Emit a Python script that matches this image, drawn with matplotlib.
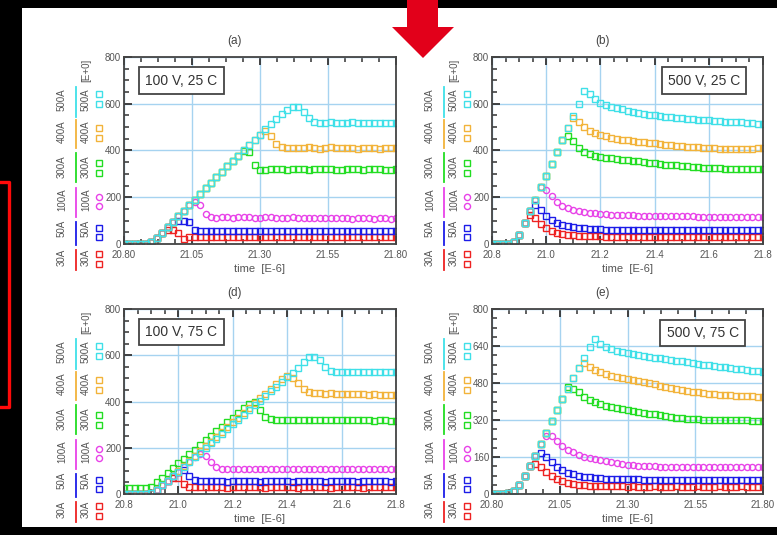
import matplotlib
matplotlib.use("Agg")
import matplotlib.pyplot as plt
from matplotlib.lines import Line2D
from matplotlib.patches import Rectangle, Polygon
from matplotlib.ticker import AutoMinorLocator

# sample times [E-6 s], shared by all four panels
T = [20.80, 20.82, 20.84, 20.86, 20.88, 20.90, 20.92, 20.94, 20.96, 20.98,
     21.00, 21.02, 21.04, 21.06, 21.08, 21.10, 21.12, 21.14, 21.16, 21.18,
     21.20, 21.22, 21.24, 21.26, 21.28, 21.30, 21.32, 21.34, 21.36, 21.38,
     21.40, 21.42, 21.44, 21.46, 21.48, 21.50, 21.52, 21.54, 21.56, 21.58,
     21.60, 21.62, 21.64, 21.66, 21.68, 21.70, 21.72, 21.74, 21.76, 21.78, 21.80]

NAMES = ['30A', '50A', '100A', '300A', '400A', '500A']
COLORS = ['#ee2222', '#1c1ce8', '#e842e8', '#22dd22', '#f2b33a', '#3fe0e8']
MARKERS = ['s', 's', 'o', 's', 's', 's']

# (a) 100 V, 25 C
a_30A = [0, 0, 0, 0, 2, 8, 25, 48, 62, 58, 45, 22, 28, 30, 31, 29, 30, 32, 30, 29,
         31, 30, 28, 30, 31, 29, 30, 31, 30, 28, 30, 31, 29, 30, 31, 30, 29, 30, 31, 29,
         30, 31, 30, 29, 30, 31, 30, 29, 30, 31, 30]
a_50A = [0, 0, 0, 0, 2, 8, 25, 48, 72, 96, 100, 98, 92, 62, 56, 55, 57, 56, 54, 55,
         57, 56, 55, 54, 56, 57, 55, 54, 56, 55, 54, 56, 57, 55, 54, 55, 56, 54, 55, 57,
         56, 54, 55, 56, 55, 54, 56, 55, 54, 55, 56]
a_100A = [0, 0, 0, 0, 2, 8, 25, 48, 72, 96, 120, 143, 165, 178, 168, 128, 114, 112, 115, 114,
          113, 115, 116, 114, 112, 113, 115, 114, 112, 111, 113, 114, 112, 110, 112, 113, 111, 110, 112, 113,
          111, 110, 109, 111, 112, 110, 109, 111, 110, 108, 110]
a_300A = [0, 0, 0, 0, 2, 8, 25, 48, 72, 96, 120, 143, 167, 190, 214, 238, 262, 285, 308, 332,
          355, 378, 398, 392, 338, 318, 316, 320, 322, 319, 318, 321, 322, 320, 318, 319, 321, 322, 320, 318,
          317, 320, 321, 319, 318, 320, 321, 319, 317, 318, 320]
a_400A = [0, 0, 0, 0, 2, 8, 25, 48, 72, 96, 120, 143, 167, 190, 214, 238, 262, 285, 308, 332,
          355, 378, 400, 422, 445, 467, 485, 462, 428, 414, 410, 412, 409, 411, 413, 410, 408, 411, 413, 410,
          409, 412, 410, 408, 411, 412, 409, 408, 410, 412, 409]
a_500A = [0, 0, 0, 0, 2, 8, 25, 48, 72, 96, 120, 143, 167, 190, 214, 238, 262, 285, 308, 332,
          355, 378, 400, 422, 445, 467, 490, 512, 535, 556, 575, 586, 584, 566, 540, 522, 516, 518, 520, 519,
          517, 518, 520, 518, 516, 517, 519, 518, 516, 517, 518]

# (b) 500 V, 25 C
b_30A = [0, 0, 0, 0, 8, 40, 90, 125, 110, 85, 68, 55, 48, 43, 40, 38, 36, 35, 34, 33,
         33, 32, 32, 32, 31, 31, 31, 31, 30, 31, 30, 30, 31, 30, 30, 30, 31, 30, 30, 30,
         31, 30, 30, 30, 31, 30, 30, 30, 31, 30, 30]
b_50A = [0, 0, 0, 0, 8, 40, 90, 140, 168, 145, 120, 102, 90, 82, 76, 72, 69, 67, 65, 64,
         63, 62, 62, 61, 61, 61, 60, 60, 60, 60, 60, 59, 60, 60, 59, 60, 60, 59, 60, 59,
         60, 60, 59, 60, 60, 59, 60, 60, 59, 60, 60]
b_100A = [0, 0, 0, 0, 8, 40, 90, 140, 190, 245, 232, 205, 180, 163, 152, 145, 140, 136, 133, 131,
          129, 127, 126, 125, 124, 123, 122, 121, 121, 120, 120, 119, 119, 119, 118, 118, 118, 118, 117, 117,
          117, 117, 117, 117, 116, 117, 117, 116, 117, 117, 117]
b_300A = [0, 0, 0, 0, 8, 40, 90, 140, 190, 242, 293, 344, 395, 446, 460, 440, 410, 395, 385, 378,
          373, 369, 366, 363, 360, 358, 356, 353, 350, 347, 345, 342, 340, 338, 336, 334, 332, 330, 328, 326,
          325, 324, 323, 322, 322, 321, 321, 320, 320, 320, 320]
b_400A = [0, 0, 0, 0, 8, 40, 90, 140, 190, 242, 293, 344, 395, 446, 497, 540, 522, 502, 485, 474,
          466, 460, 455, 451, 447, 444, 441, 438, 435, 432, 430, 428, 425, 423, 421, 419, 417, 416, 414, 412,
          410, 409, 408, 408, 407, 407, 406, 408, 407, 409, 410]
b_500A = [0, 0, 0, 0, 8, 40, 90, 140, 190, 242, 293, 344, 395, 446, 497, 548, 600, 655, 640, 622,
          605, 596, 588, 582, 576, 571, 566, 562, 558, 554, 551, 548, 545, 542, 540, 537, 535, 533, 532, 530,
          529, 527, 526, 524, 523, 521, 520, 518, 517, 515, 514]

# (d) 100 V, 75 C
d_30A = [0, 2, 0, 1, 2, 5, 18, 37, 56, 70, 68, 45, 32, 30, 29, 30, 31, 29, 30, 28,
         30, 29, 31, 30, 29, 30, 28, 29, 30, 31, 29, 30, 28, 29, 30, 31, 29, 30, 28, 29,
         30, 31, 29, 30, 28, 29, 30, 31, 29, 30, 29]
d_50A = [0, 2, 0, 1, 2, 5, 18, 37, 56, 77, 97, 104, 80, 60, 56, 55, 57, 56, 55, 54,
         56, 55, 57, 56, 55, 54, 56, 55, 57, 56, 55, 54, 56, 55, 57, 56, 55, 54, 56, 55,
         57, 56, 55, 54, 56, 55, 57, 56, 55, 54, 56]
d_100A = [0, 2, 0, 1, 2, 5, 18, 37, 56, 77, 97, 118, 138, 158, 172, 165, 140, 118, 110, 108,
          109, 110, 108, 109, 110, 109, 108, 110, 109, 108, 110, 109, 108, 109, 110, 108, 109, 110, 108, 109,
          110, 109, 108, 107, 109, 108, 109, 107, 108, 109, 108]
d_300A = [25, 26, 24, 25, 26, 30, 50, 70, 90, 112, 132, 152, 172, 192, 212, 232, 252, 271, 290, 310,
          330, 350, 370, 390, 398, 365, 335, 325, 322, 320, 321, 319, 320, 322, 320, 319, 320, 321, 319, 318,
          320, 319, 318, 320, 319, 318, 317, 319, 318, 317, 316]
d_400A = [0, 2, 0, 1, 2, 5, 18, 37, 58, 80, 101, 122, 143, 164, 185, 206, 227, 247, 268, 289,
          310, 330, 351, 372, 393, 413, 434, 455, 476, 497, 512, 500, 478, 455, 443, 438, 436, 434, 435, 433,
          432, 434, 433, 431, 432, 430, 431, 429, 430, 428, 429]
d_500A = [0, 2, 0, 1, 2, 5, 18, 37, 56, 77, 97, 118, 138, 158, 179, 199, 220, 240, 260, 281,
          301, 322, 342, 362, 383, 403, 424, 444, 464, 485, 505, 525, 546, 570, 592, 594, 578, 550, 532, 527,
          528, 526, 529, 527, 528, 526, 527, 529, 528, 526, 527]

# (e) 500 V, 75 C
e_30A = [0, 0, 2, 5, 15, 40, 80, 120, 130, 115, 95, 78, 65, 55, 48, 43, 40, 38, 36, 35,
         34, 34, 33, 33, 33, 32, 33, 32, 32, 32, 33, 32, 32, 32, 33, 32, 32, 32, 33, 32,
         32, 32, 33, 32, 32, 32, 33, 32, 32, 32, 33]
e_50A = [0, 0, 2, 5, 15, 40, 80, 120, 165, 176, 160, 138, 118, 102, 92, 85, 79, 75, 72, 70,
         68, 67, 66, 65, 64, 64, 63, 63, 62, 62, 62, 62, 61, 62, 61, 61, 62, 61, 61, 62,
         61, 61, 62, 61, 61, 62, 61, 61, 62, 61, 61]
e_100A = [0, 0, 2, 5, 15, 40, 80, 120, 165, 215, 252, 250, 230, 208, 192, 180, 170, 162, 155, 150,
          146, 141, 137, 133, 129, 126, 124, 122, 121, 120, 119, 118, 117, 117, 116, 116, 116, 115, 116, 115,
          115, 116, 115, 115, 116, 115, 115, 116, 115, 115, 116]
e_300A = [0, 0, 2, 5, 15, 40, 80, 120, 165, 215, 265, 315, 365, 410, 462, 452, 440, 418, 405, 396,
          388, 382, 377, 372, 368, 364, 360, 356, 352, 348, 344, 340, 336, 332, 329, 327, 325, 324, 323, 322,
          321, 320, 320, 319, 319, 318, 318, 318, 317, 317, 317]
e_400A = [0, 0, 2, 5, 15, 40, 80, 120, 165, 215, 265, 315, 365, 410, 455, 500, 545, 565, 550, 537,
          527, 519, 512, 507, 503, 499, 494, 489, 484, 479, 474, 469, 464, 459, 454, 450, 446, 443, 440, 437,
          434, 432, 430, 428, 427, 425, 424, 423, 422, 421, 420]
e_500A = [0, 0, 2, 5, 15, 40, 80, 120, 165, 215, 265, 315, 365, 410, 455, 500, 545, 590, 635, 672,
          650, 635, 625, 617, 612, 608, 604, 600, 597, 593, 590, 587, 583, 580, 576, 573, 570, 566, 563, 560,
          557, 554, 551, 548, 545, 542, 539, 536, 533, 531, 529]

XT_QUARTER = [20.80, 21.05, 21.30, 21.55, 21.80]
XT_QUARTER_LBL = ['20.80', '21.05', '21.30', '21.55', '21.80']
XT_FIFTH = [20.8, 21.0, 21.2, 21.4, 21.6, 21.8]
XT_FIFTH_LBL = ['20.8', '21.0', '21.2', '21.4', '21.6', '21.8']
YT_200 = [0, 200, 400, 600, 800]
YT_160 = [0, 160, 320, 480, 640, 800]

W, H = 777, 535
def fx(x):
    return x / W
def fy(y):
    return 1 - y / H

NARROW = ['Liberation Sans Narrow', 'Liberation Sans', 'DejaVu Sans']
SANS = ['Liberation Sans', 'DejaVu Sans']
GRAY = '#555555'
MS, MEW = 4.4, 1.0

fig = plt.figure(figsize=(W / 100, H / 100), dpi=100, facecolor='black')

# white slide area
fig.add_artist(Rectangle((fx(22), fy(527)), (W - 22) / W, (527 - 8) / H,
                         transform=fig.transFigure, facecolor='white',
                         edgecolor='none', zorder=-10))

panels = [
    dict(tag='(a)', box='100 V, 25 C', L=124, R=396, T=57, B=244,
         series=[a_30A, a_50A, a_100A, a_300A, a_400A, a_500A],
         xt=XT_QUARTER, xl=XT_QUARTER_LBL, yt=YT_200, bx=0.211, by=0.874),
    dict(tag='(b)', box='500 V, 25 C', L=492, R=763, T=57, B=244,
         series=[b_30A, b_50A, b_100A, b_300A, b_400A, b_500A],
         xt=XT_FIFTH, xl=XT_FIFTH_LBL, yt=YT_200, bx=0.782, by=0.874),
    dict(tag='(d)', box='100 V, 75 C', L=124, R=396, T=309, B=494,
         series=[d_30A, d_50A, d_100A, d_300A, d_400A, d_500A],
         xt=XT_FIFTH, xl=XT_FIFTH_LBL, yt=YT_200, bx=0.211, by=0.876),
    dict(tag='(e)', box='500 V, 75 C', L=492, R=763, T=309, B=494,
         series=[e_30A, e_50A, e_100A, e_300A, e_400A, e_500A],
         xt=XT_QUARTER, xl=XT_QUARTER_LBL, yt=YT_160, bx=0.777, by=0.870),
]

# legend column layout, offsets from axes top in px (30A ... 500A)
TXT_Y = [200, 171, 143, 110, 75, 43]
BAR_Y = [(193, 213), (165, 188), (131, 160), (96, 125), (63, 91), (30, 60)]
MRK_Y = [(197, 207), (171, 180), (140, 149), (106, 116), (71, 81), (37, 47)]

for p in panels:
    L, R, Tp, B = p['L'], p['R'], p['T'], p['B']
    ax = fig.add_axes([fx(L), fy(B), (R - L) / W, (B - Tp) / H])
    ax.set_axisbelow(True)
    for vals, c, m in zip(p['series'], COLORS, MARKERS):
        ax.plot(T, vals, linestyle='none', marker=m, ms=MS, mew=MEW,
                mfc='none', mec=c)
    ax.set_xlim(20.8, 21.8)
    ax.set_ylim(0, 800)
    ax.set_xticks(p['xt'])
    ax.set_xticklabels(p['xl'])
    ax.set_yticks(p['yt'])
    ax.xaxis.set_minor_locator(AutoMinorLocator(4))
    ax.yaxis.set_minor_locator(AutoMinorLocator(4))
    ax.grid(True, which='major', color='#a6d3f0', lw=1.0)
    ax.tick_params(which='both', direction='in', top=True, right=False,
                   color='#333333', labelcolor=GRAY, labelsize=7)
    ax.tick_params(which='major', length=5.5, width=1.3)
    ax.tick_params(which='minor', length=3.5, width=1.1)
    ax.tick_params(axis='x', pad=4)
    ax.tick_params(axis='y', pad=2)
    for lbl in ax.get_xticklabels() + ax.get_yticklabels():
        lbl.set_family(NARROW)
    for s in ax.spines.values():
        s.set_color('#444444')
        s.set_linewidth(1.3)
    ax.text(p['bx'], p['by'], p['box'], transform=ax.transAxes, ha='center',
            va='center', fontsize=10, color='#333333', family=SANS, zorder=6,
            bbox=dict(boxstyle='square,pad=0.45', fc='white', ec='#444444', lw=1.3))

    # title and x label
    fig.text(fx(L + 111), fy(Tp - 16), p['tag'], ha='center', va='center',
             fontsize=8.5, color='#444444', family=SANS)
    fig.text(fx((L + R) / 2), fy(B + 25), 'time  [E-6]', ha='center',
             va='center', fontsize=8, color=GRAY, family=SANS)

    # IDL-style legend on the left
    fig.text(fx(L - 38), fy(Tp + 13), '[E+0]', rotation=90, ha='center',
             va='center', fontsize=7, color=GRAY, family=NARROW)
    for name, c, m, ty, (b0, b1), (m0, m1) in zip(NAMES, COLORS, MARKERS,
                                                  TXT_Y, BAR_Y, MRK_Y):
        for xx in (L - 62, L - 38):
            fig.text(fx(xx), fy(Tp + ty), name, rotation=90, ha='center',
                     va='center', fontsize=7, color=GRAY, family=NARROW)
        fig.add_artist(Line2D([fx(L - 48), fx(L - 48)], [fy(Tp + b0), fy(Tp + b1)],
                              transform=fig.transFigure, color=c, lw=1.3))
        fig.add_artist(Line2D([fx(L - 25), fx(L - 25)], [fy(Tp + m0), fy(Tp + m1)],
                              transform=fig.transFigure, linestyle='none',
                              marker=m, ms=MS, mew=MEW, mfc='none', mec=c))

# red arrow at the top and red frame at the left edge
arrow = [(407, 0), (438, 0), (438, 27), (454, 27), (423, 58), (392, 27), (407, 27)]
fig.add_artist(Polygon([(fx(x), fy(y)) for x, y in arrow], closed=True,
                       transform=fig.transFigure, facecolor='#e2001a',
                       edgecolor='none', zorder=10))
fig.add_artist(Line2D([fx(0), fx(9), fx(9), fx(0)], [fy(182), fy(182), fy(407), fy(407)],
                      transform=fig.transFigure, color='#ff0a0a', lw=2.4, zorder=10))

fig.savefig('out.png', dpi=100, facecolor='black')
